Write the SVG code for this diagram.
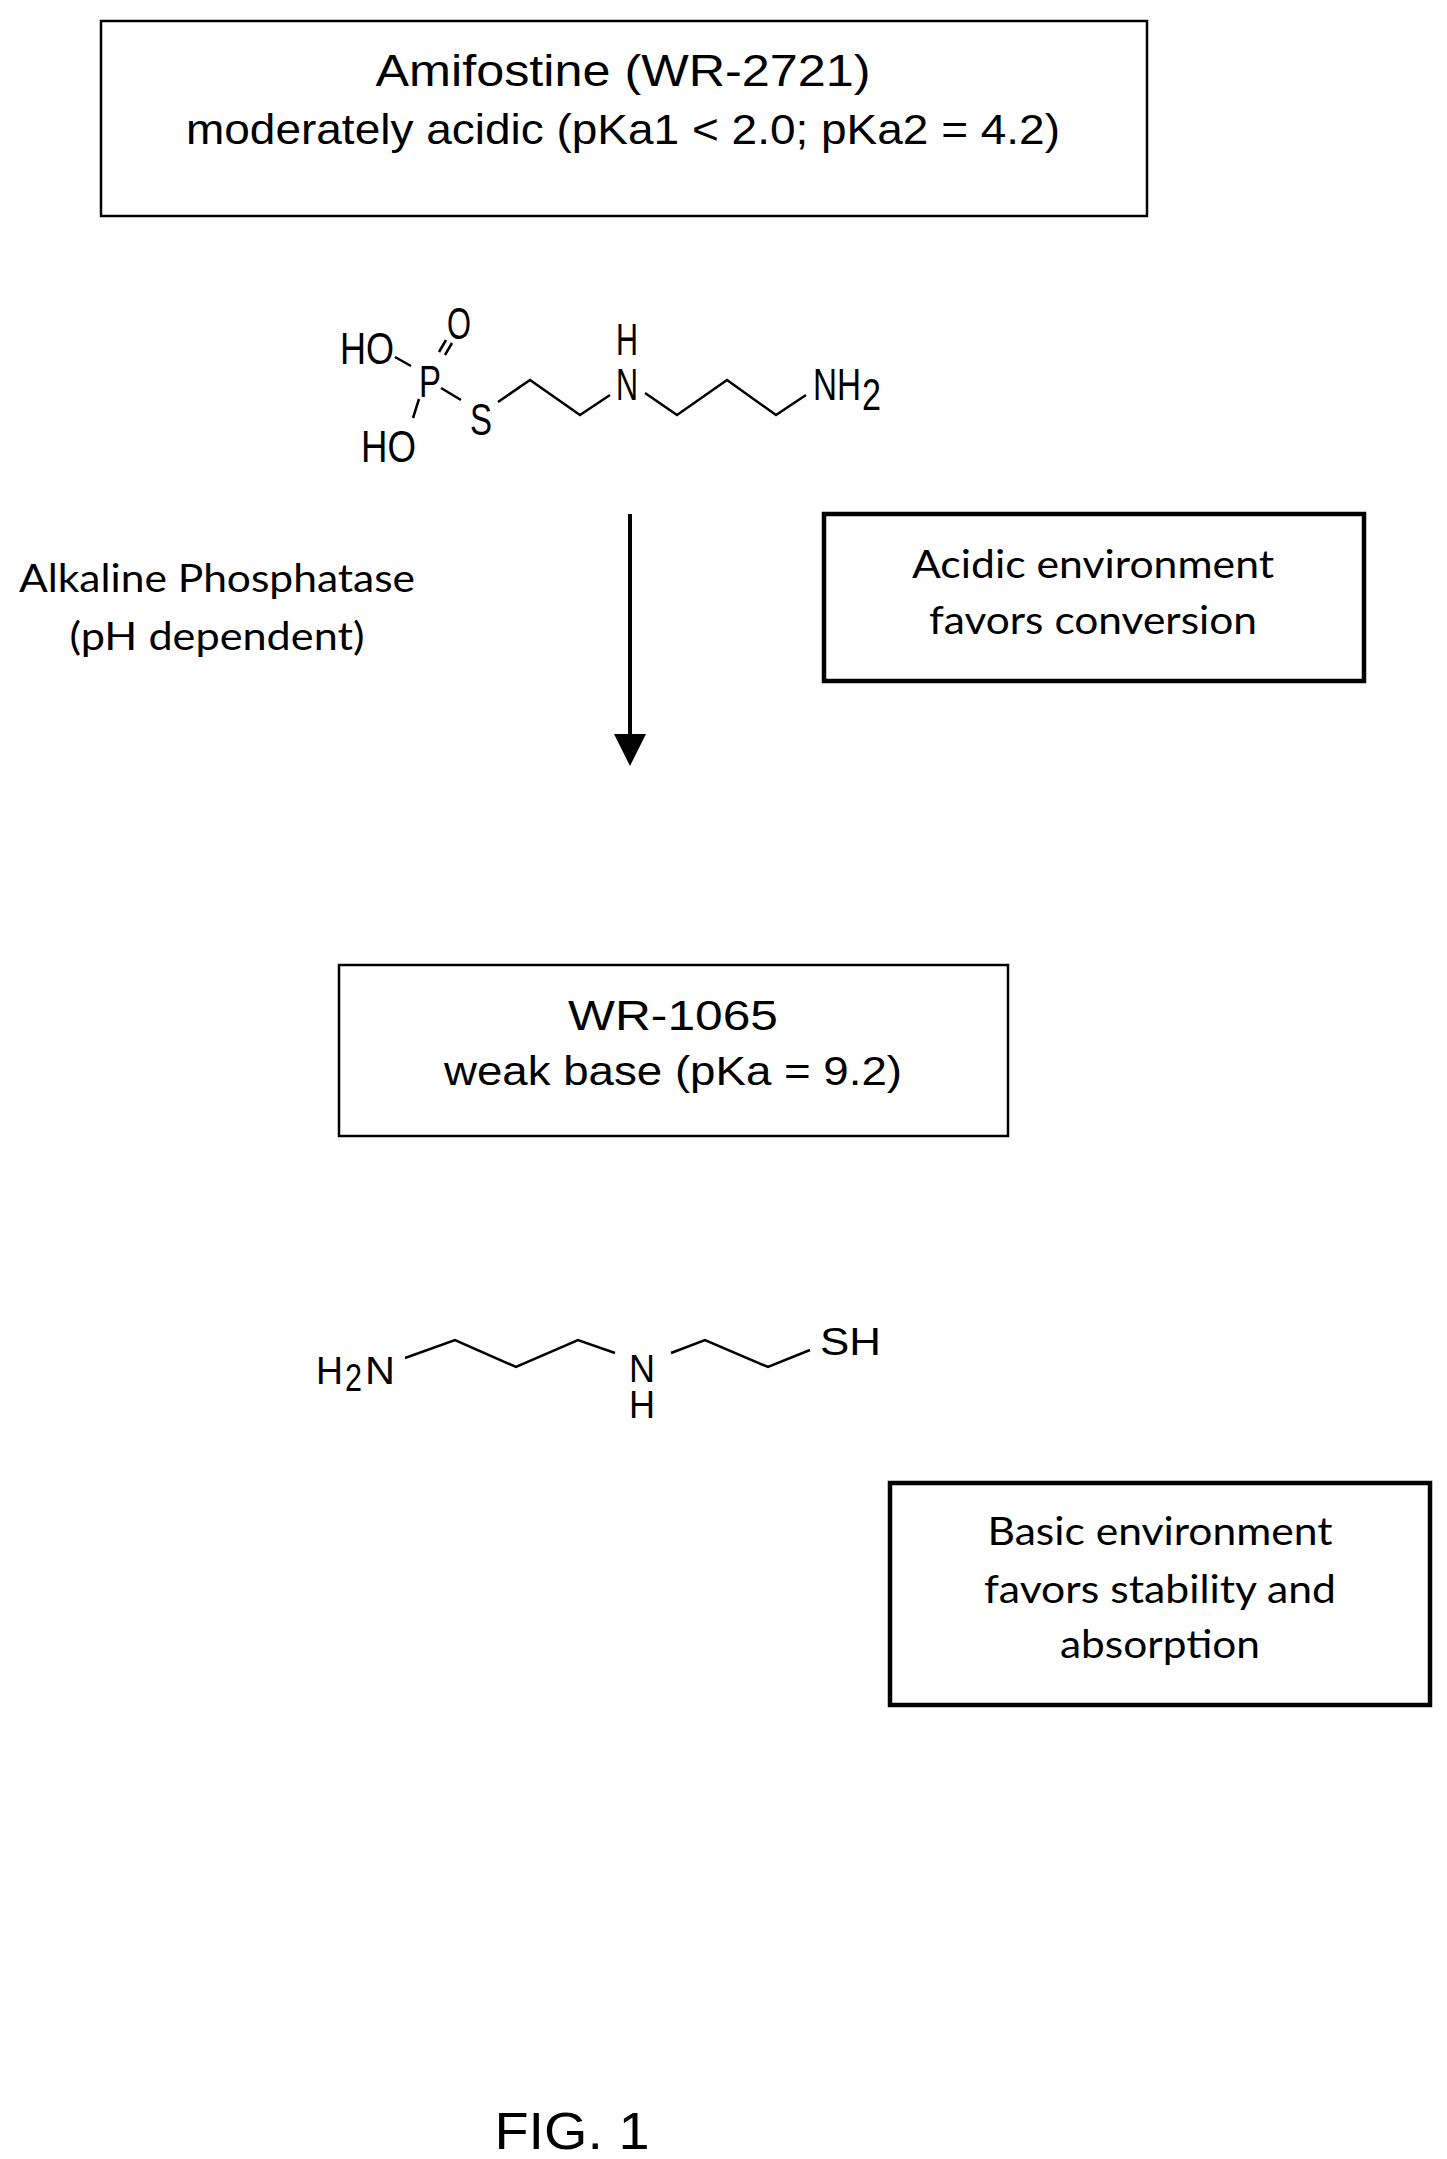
<svg xmlns="http://www.w3.org/2000/svg" width="1447" height="2159" viewBox="0 0 1447 2159">
<style>
.bx{fill:none;stroke:#000;stroke-width:2.5}
.bk{fill:none;stroke:#000;stroke-width:4.5}
.a{font-family:"Liberation Sans",Arial,sans-serif;fill:#000;text-anchor:middle}
.c{font-family:Lato,"Open Sans",sans-serif;fill:#000;text-anchor:middle;font-size:38px}
.m{font-family:"Liberation Sans",Arial,sans-serif;fill:#000;font-size:44px}
.n{font-family:"Liberation Sans",Arial,sans-serif;fill:#000;font-size:38px}
.b{fill:none;stroke:#000;stroke-width:2.5}
</style>
<defs><marker id="ah" markerWidth="8" markerHeight="8" refX="7" refY="4" orient="auto" markerUnits="strokeWidth"><path d="M0,0 L8,4 L0,8 Z" fill="#000"/></marker></defs>
<g id="amifostine-box"><rect class="bx" x="101" y="21" width="1046" height="195"/>
<text class="a" x="623" y="86" font-size="44" textLength="495" lengthAdjust="spacingAndGlyphs">Amifostine (WR-2721)</text>
<text class="a" x="623" y="144" font-size="42" textLength="874" lengthAdjust="spacingAndGlyphs">moderately acidic (pKa1 &lt; 2.0; pKa2 = 4.2)</text></g>
<g id="amifostine-structure">
<text class="m" x="340" y="364" textLength="54" lengthAdjust="spacingAndGlyphs">HO</text>
<text class="m" x="447" y="339" textLength="24" lengthAdjust="spacingAndGlyphs">O</text>
<text class="m" x="419" y="397" textLength="22" lengthAdjust="spacingAndGlyphs">P</text>
<text class="m" x="361" y="462" textLength="55" lengthAdjust="spacingAndGlyphs">HO</text>
<text class="m" x="470" y="435" textLength="22" lengthAdjust="spacingAndGlyphs">S</text>
<text class="m" x="616" y="355" textLength="22" lengthAdjust="spacingAndGlyphs">H</text>
<text class="m" x="616" y="400" textLength="22" lengthAdjust="spacingAndGlyphs">N</text>
<text class="m" x="813" y="400" textLength="48" lengthAdjust="spacingAndGlyphs">NH</text>
<text class="m" x="862" y="410" font-size="30" textLength="19" lengthAdjust="spacingAndGlyphs">2</text>
<path class="b" d="M395,357 L411,366 M439,352 L446,340 M445,355 L452,343 M419,399 L413,418 M441,388 L461,400 M498,402 L530,380 L580,415 L610,395 M645,393 L677,415 L727,380 L776,415 L806,395"/>
</g>
<g id="connectors"><line x1="630" y1="514" x2="630" y2="762" stroke="#000" stroke-width="4" marker-end="url(#ah)"/></g>
<g id="enzyme-label"><text class="c" x="217" y="592" textLength="396" lengthAdjust="spacingAndGlyphs">Alkaline Phosphatase</text>
<text class="c" x="217" y="650" textLength="295" lengthAdjust="spacingAndGlyphs">(pH dependent)</text></g>
<g id="acidic-box"><rect class="bk" x="824" y="514" width="540" height="167"/>
<text class="c" x="1093" y="578" textLength="362" lengthAdjust="spacingAndGlyphs">Acidic environment</text>
<text class="c" x="1093" y="634" textLength="328" lengthAdjust="spacingAndGlyphs">favors conversion</text></g>
<g id="wr1065-box"><rect class="bx" x="339" y="965" width="669" height="171"/>
<text class="a" x="673" y="1030" font-size="42" textLength="210" lengthAdjust="spacingAndGlyphs">WR-1065</text>
<text class="a" x="673" y="1085" font-size="40" textLength="458" lengthAdjust="spacingAndGlyphs">weak base (pKa = 9.2)</text></g>
<g id="wr1065-structure">
<text class="n" x="316" y="1384" textLength="27" lengthAdjust="spacingAndGlyphs">H</text>
<text class="n" x="345" y="1391" font-size="26" textLength="17" lengthAdjust="spacingAndGlyphs">2</text>
<text class="n" x="365" y="1384" textLength="30" lengthAdjust="spacingAndGlyphs">N</text>
<text class="n" x="629" y="1382" textLength="26" lengthAdjust="spacingAndGlyphs">N</text>
<text class="n" x="629" y="1418" textLength="26" lengthAdjust="spacingAndGlyphs">H</text>
<text class="n" x="820" y="1355" textLength="61" lengthAdjust="spacingAndGlyphs">SH</text>
<path class="b" d="M405,1358 L455,1340 L516,1367 L578,1340 L615,1353 M671,1353 L705,1340 L768,1367 L810,1350"/>
</g>
<g id="basic-box"><rect class="bk" x="890" y="1483" width="540" height="222"/>
<text class="c" x="1160" y="1545" textLength="345" lengthAdjust="spacingAndGlyphs">Basic environment</text>
<text class="c" x="1160" y="1603" textLength="352" lengthAdjust="spacingAndGlyphs">favors stability and</text>
<text class="c" x="1160" y="1658" textLength="200" lengthAdjust="spacingAndGlyphs">absorption</text></g>
<g id="fig-label"><text class="a" x="572" y="2149" font-size="52" textLength="155" lengthAdjust="spacingAndGlyphs">FIG. 1</text></g>
</svg>
